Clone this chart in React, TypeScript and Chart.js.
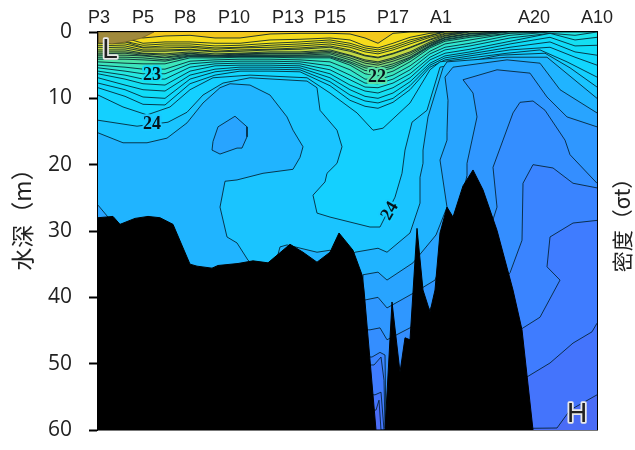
import React, { useEffect, useRef } from "react";
import { Chart, registerables } from "chart.js";

Chart.register(...registerables);

// Section distance (arbitrary units along the transect) and depth (m)
const stationNames = ["P3", "P5", "P8", "P10", "P13", "P15", "P17", "A1", "A20", "A10"];
const stationX = [1, 45, 87, 136, 190, 232, 295, 343, 436, 499];
const depthTicks = [0, 10, 20, 30, 40, 50, 60];

const surfaceX = [0, 27, 45, 67, 92, 117, 142, 172, 202, 232, 252, 267, 280, 295, 312, 332, 347, 372, 412, 452, 477, 499];
// Upper isopycnals, light to dense
const b1 = [0.5, 0.3, 0.9, 0.6, 0.5, 0.9, 0.9, 0.3, 0.2, 0.2, 0.3, 0.9, 1.7, 0.2, 0, 0, 0, 0, 0, 0, 0, 0];
const b2 = [0.9, 0.9, 1.7, 1.5, 1.5, 1.7, 1.7, 1.2, 1.1, 0.9, 1.2, 2.1, 2.4, 1.7, 0.8, 0.2, 0, 0, 0, 0, 0, 0];
const b2a = [1.2, 1.4, 2.0, 1.8, 1.8, 2.1, 2.0, 1.7, 1.5, 1.2, 1.7, 2.4, 2.7, 2.1, 1.2, 0.5, 0, 0, 0, 0, 0, 0];
const b3 = [1.4, 1.5, 2.3, 2.1, 2.1, 2.4, 2.3, 2.0, 1.8, 1.5, 2.0, 2.7, 3.0, 2.4, 1.5, 0.6, 0, 0, 0, 0, 0, 0];
const b3a = [1.7, 1.8, 2.4, 2.4, 2.3, 2.6, 2.4, 2.3, 2.1, 1.8, 2.3, 3.0, 3.3, 2.7, 1.8, 0.8, 0.2, 0, 0, 0, 0, 0];
const b4 = [2.0, 2.1, 2.7, 2.7, 2.6, 2.9, 2.7, 2.6, 2.4, 2.1, 2.7, 3.5, 3.8, 3.2, 2.3, 1.1, 0.3, 0, 0, 0, 0, 0];
const b4a = [2.3, 2.4, 2.9, 2.9, 2.7, 3.0, 2.9, 2.7, 2.6, 2.3, 2.9, 3.6, 3.9, 3.3, 2.4, 1.2, 0.5, 0, 0, 0, 0, 0];
const b5 = [2.7, 2.7, 3.2, 3.3, 3.0, 3.3, 3.2, 3.0, 3.0, 2.7, 3.5, 4.2, 4.5, 3.9, 3.0, 1.5, 0.6, 0, 0, 0, 0, 0];
const b5a = [3.0, 3.0, 3.3, 3.5, 3.2, 3.5, 3.3, 3.2, 3.2, 2.9, 3.6, 4.4, 4.7, 4.1, 3.2, 1.7, 0.8, 0.2, 0, 0, 0, 0];
const b5b = [3.3, 3.2, 3.5, 3.8, 3.3, 3.6, 3.4, 3.3, 3.3, 3.1, 3.9, 4.7, 5.0, 4.4, 3.5, 1.8, 0.9, 0.3, 0, 0, 0, 0];
const b6 = [3.5, 3.5, 3.6, 3.9, 3.5, 3.6, 3.5, 3.5, 3.5, 3.3, 4.2, 5.1, 5.4, 4.8, 3.8, 2.0, 0.9, 0.3, 0, 0, 0, 0];
const b6a = [3.8, 3.8, 3.9, 4.2, 3.6, 3.8, 3.6, 3.6, 3.6, 3.6, 4.5, 5.4, 5.7, 5.1, 3.9, 2.1, 1.1, 0.5, 0, 0, 0, 0];
const b6b = [4.1, 4.1, 4.2, 4.4, 3.7, 3.75, 3.7, 3.7, 3.75, 3.75, 4.7, 5.8, 6.0, 5.4, 4.1, 2.2, 1.2, 0.6, 0, 0, 0, 0];
const b7 = [4.5, 4.7, 4.8, 4.8, 3.9, 3.9, 3.8, 3.8, 3.9, 3.9, 5.0, 6.3, 6.6, 5.9, 4.5, 2.4, 1.4, 0.8, 0.2, 0, 0, 0];
const b8 = [5.0, 5.3, 5.6, 5.6, 4.4, 4.2, 4.1, 4.1, 4.2, 4.5, 5.7, 7.1, 7.2, 6.5, 5.1, 2.9, 1.8, 1.2, 0.2, 0, 0, 0];
const b9 = [5.4, 5.9, 6.3, 6.3, 4.8, 4.5, 4.4, 4.4, 4.5, 5.1, 6.5, 7.7, 7.8, 7.1, 5.7, 3.3, 2.3, 1.7, 0.5, 0, 0, 0];
const b10 = [5.9, 6.5, 7.1, 7.1, 5.3, 4.8, 4.7, 4.7, 4.8, 5.7, 7.2, 8.3, 8.4, 7.7, 6.3, 3.8, 2.7, 2.1, 0.9, 0.2, 0.5, 0];
const b11 = [6.3, 7.1, 7.8, 8.0, 5.9, 5.1, 5.0, 5.0, 5.1, 6.3, 8.0, 8.9, 9.2, 8.4, 6.9, 4.2, 3.2, 2.6, 1.4, 0.2, 1.2, 0.8];
const b12 = [6.9, 8.0, 8.7, 8.9, 6.5, 5.6, 5.3, 5.3, 5.4, 6.9, 8.7, 9.7, 10.0, 9.2, 7.5, 4.7, 3.6, 3.0, 1.8, 0.8, 2.1, 2.0];
const b13 = [7.7, 8.7, 9.8, 10.0, 7.1, 6.0, 5.6, 5.6, 5.7, 7.5, 9.5, 10.4, 10.7, 10.0, 8.1, 5.0, 3.9, 3.3, 2.3, 1.5, 3.0, 3.5];
const b14 = [8.4, 9.7, 10.9, 11.0, 7.8, 6.5, 5.9, 5.9, 6.0, 8.1, 10.3, 11.2, 11.5, 10.6, 8.7, 5.3, 4.2, 3.6, 2.7, 2.3, 3.8, 5.0];
const upperLines = [b1, b2, b2a, b3, b3a, b4, b4a, b5, b5a, b5b, b6, b6a, b6b, b7, b8, b9, b10, b11, b12, b13, b14];

// Lower isopycnals as [distance, depth] pairs
const lineC = [[0, 9.5], [25, 11.3], [49, 12.5], [72, 11.3], [92, 8.7], [115, 6.9], [152, 6.5], [209, 6.9], [232, 9.2], [259, 12.2], [275, 14.8], [285, 14.5], [312, 10.7], [332, 5.7], [342, 4.5], [409, 3.2], [442, 2.7], [469, 4.5], [499, 6.8]];
const lineH = [[0, 13.3], [39, 14.2], [70, 13.6], [89, 12.1], [105, 9.5], [125, 7.7], [152, 6.9], [209, 7.4], [219, 8.4], [222, 11.8], [239, 14.8], [244, 17.3], [239, 19.8], [229, 21.3], [227, 22.6], [215, 24.6], [219, 27.3], [232, 27.9], [272, 29.4], [282, 29.4], [297, 24.9], [304, 21.3], [307, 17.8], [314, 13.6], [329, 11.8], [342, 5.3], [402, 3.5], [447, 3.2], [472, 5.4], [499, 8.3]];
const lineG = [[0, 15.2], [25, 16.7], [49, 16.7], [69, 16], [89, 13.7], [105, 10.7], [122, 8.4], [132, 7.8], [152, 8], [172, 9.5], [189, 12.8], [195, 14.8], [205, 17.3], [202, 18.9], [195, 20.7], [165, 21.3], [139, 22.3], [127, 22.5], [122, 26.4], [129, 30.9], [139, 31.8], [150, 34.4], [167, 36.6], [179, 34.1], [182, 32.4], [189, 32.1], [219, 33.2], [232, 32.9], [247, 34.4], [257, 33.2], [280, 32.6], [289, 33.2], [312, 30.3], [322, 25.8], [322, 21.9], [325, 19.8], [325, 17.8], [330, 12.8], [345, 5.4], [349, 4.5], [409, 3.8], [449, 3.8], [499, 10]];
const lineF = [[0, 26.1], [10, 27.9], [10, 32.9], [152, 38.9], [265, 38.9], [265, 36.6], [280, 36.2], [289, 37.4], [315, 34.8], [338, 30.6], [349, 26.4], [342, 19.3], [349, 16.3], [349, 15.2], [350, 10.3], [347, 6.8], [355, 5.3], [409, 4.2], [442, 4.7], [462, 8.7], [499, 12.2]];
const lineE = [[0, 40.4], [267, 40.4], [280, 40], [289, 41.6], [315, 39.4], [325, 38.5], [337, 37.4], [357, 29.9], [369, 21.6], [369, 19.8], [374, 16.3], [379, 12.8], [375, 9.2], [365, 7.2], [399, 5.7], [432, 6.2], [449, 9.8], [469, 12.8], [499, 14.3]];
const lineL = [[0, 45], [272, 44.9], [282, 44.6], [289, 46.4], [312, 44.6], [382, 34.4], [399, 26.4], [395, 20.4], [405, 16.3], [415, 12.2], [422, 10.6], [435, 10.4], [447, 11.8], [467, 16.3], [472, 18.5], [499, 22.8]];
const lineD4 = [[0, 48], [274, 49], [282, 48.3], [287, 48.7], [288, 59.9], [412, 36.3], [424, 31.4], [425, 22.8], [435, 20], [455, 20.5], [475, 22.8], [499, 23.5]];
const lineD3 = [[0, 50], [276, 50.2], [283, 49], [286, 52.5], [287, 59.7], [422, 44.9], [442, 43], [462, 37.4], [449, 35.4], [452, 30.9], [475, 28.8], [499, 28.4]];
const lineD2 = [[0, 54], [277, 54.7], [283, 54.3], [286, 60], [429, 52], [452, 49.9], [475, 46.9], [494, 45.2], [499, 43.9]];
const lineD1 = [[0, 57], [278, 57], [281, 55.5], [283, 60], [459, 59.7], [472, 57], [499, 54.7]];
const islandP10 = [[137, 12.7], [149, 14.3], [149, 15.8], [144, 17.5], [139, 17.5], [122, 18.4], [114, 17.8], [115, 16.5], [120, 14.3], [137, 12.7]];
const brownCorner = [[0, 0], [0, 1.6], [14, 1.8], [28, 1.5], [44, 0.9], [56, 0], [0, 0]];

const seabed = [[0, 28], [15, 27.8], [22, 29], [37, 28.1], [50, 27.8], [62, 28], [75, 29], [92, 35], [99, 35.3], [114, 35.6], [120, 35.2], [140, 34.9], [155, 34.5], [170, 34.8], [192, 32], [205, 33.2], [219, 34.7], [232, 33.2], [241, 30.3], [255, 32.9], [264, 36.6], [266, 38.9], [278, 60], [287, 60], [294, 40.7], [302, 51.3], [307, 46.1], [312, 46.4], [319, 29.6], [325, 38.9], [332, 42.2], [337, 38.9], [342, 30.3], [349, 26.4], [355, 27.9], [365, 23.2], [375, 20.8], [385, 23.8], [399, 29.9], [415, 38.9], [424, 44.9], [435, 60]];

const baseColor = "#f3c81c";
const upperColors = ["#f6dc1c", "#f8e81e", "#f8ee20", "#f2ec24", "#e8e428", "#d8de34", "#c2d844", "#a8d458", "#90d46a", "#7cd67c", "#6cdc8c", "#5ce098", "#4ce4a8", "#3ce6bc", "#30e8d0", "#26e8e0", "#1ce4ea", "#14def2", "#10dcf8", "#10d8fc", "#12d6fe"];
const lowerColors = ["#14d0ff", "#1ac4ff", "#20b4ff", "#28a4ff", "#2f97ff", "#348eff", "#3a84ff", "#3f7cff", "#4474fc", "#4a6cf6"];

const contourLabels = [
  { text: "23", x: 54, depth: 6.6, angle: 0, halo: "#14dcf4" },
  { text: "24", x: 54, depth: 13.9, angle: 0, halo: "#1ac8ff" },
  { text: "22", x: 279, depth: 6.8, angle: 0, halo: "#58e2a8" },
  { text: "24", x: 292, depth: 27, angle: -60, halo: "#16ccff" },
];
const cornerLabels = [
  { text: "L", x: 12, depth: 2.8 },
  { text: "H", x: 479, depth: 57.7 },
];
const sideTitles = [
  { text: "水深（m）", left: 22, middle: 214, size: 23 },
  { text: "密度（σt）", left: 622, middle: 220, size: 21 },
];

const toPts = (rows: number[][]) => rows.map(([x, y]) => ({ x, y }));
const LINE = "rgba(4,32,46,0.85)";

const bandFill = {
  id: "bandFill",
  beforeDatasetsDraw(chart: any) {
    const a = chart.chartArea;
    chart.ctx.save();
    chart.ctx.fillStyle = baseColor;
    chart.ctx.fillRect(a.left, a.top, a.width, a.height);
    chart.ctx.restore();
  },
  beforeDatasetDraw(chart: any, args: any) {
    const ds = chart.data.datasets[args.index];
    if (!ds.bandColor) return;
    const { ctx, chartArea: a } = chart;
    const pts = args.meta.data;
    ctx.save();
    ctx.beginPath();
    ctx.rect(a.left, a.top, a.width, a.height);
    ctx.clip();
    ctx.beginPath();
    pts.forEach((p: any, i: number) => (i ? ctx.lineTo(p.x, p.y) : ctx.moveTo(p.x, p.y)));
    if (!ds.closedShape) {
      ctx.lineTo(a.right, a.bottom);
      ctx.lineTo(a.left, a.bottom);
    }
    ctx.closePath();
    ctx.fillStyle = ds.bandColor;
    ctx.fill();
    ctx.restore();
  },
  afterDatasetsDraw(chart: any) {
    const { ctx, chartArea: a } = chart;
    ctx.save();
    ctx.strokeStyle = "#777";
    ctx.lineWidth = 1;
    ctx.beginPath();
    ctx.moveTo(a.left, a.bottom + 0.5);
    ctx.lineTo(a.right + 1, a.bottom + 0.5);
    ctx.stroke();
    ctx.restore();
  },
};

const textMarks = {
  id: "textMarks",
  afterDatasetsDraw(chart: any) {
    const { ctx, scales } = chart;
    ctx.save();
    ctx.textAlign = "center";
    ctx.textBaseline = "middle";
    ctx.lineJoin = "round";
    contourLabels.forEach((l) => {
      ctx.save();
      ctx.translate(scales.x.getPixelForValue(l.x), scales.y.getPixelForValue(l.depth));
      ctx.rotate((l.angle * Math.PI) / 180);
      ctx.font = 'bold 18px "Liberation Serif"';
      ctx.strokeStyle = l.halo;
      ctx.lineWidth = 4;
      ctx.strokeText(l.text, 0, 0);
      ctx.fillStyle = "#06141c";
      ctx.fillText(l.text, 0, 0);
      ctx.restore();
    });
    ctx.font = '28px "Liberation Sans"';
    cornerLabels.forEach((l) => {
      const px = scales.x.getPixelForValue(l.x);
      const py = scales.y.getPixelForValue(l.depth);
      ctx.strokeStyle = "#e8e8e8";
      ctx.lineWidth = 3.5;
      ctx.strokeText(l.text, px, py);
      ctx.fillStyle = "#222";
      ctx.fillText(l.text, px, py);
    });
    sideTitles.forEach((t) => {
      ctx.save();
      ctx.translate(t.left, t.middle);
      ctx.rotate(-Math.PI / 2);
      ctx.font = `${t.size}px "Noto Sans CJK SC"`;
      ctx.fillStyle = "#222";
      ctx.fillText(t.text, 0, 0);
      ctx.restore();
    });
    ctx.restore();
  },
};

export default function App() {
  const ref = useRef<HTMLCanvasElement>(null);
  useEffect(() => {
    document.body.style.margin = "0";
    const upper = upperLines.map((row, i) => ({
      data: row.map((y, j) => ({ x: surfaceX[j], y })),
      bandColor: upperColors[i],
      borderColor: LINE,
      borderWidth: 1,
    }));
    const lower = [lineC, lineH, lineG, lineF].map((r, i) => ({ data: toPts(r), bandColor: lowerColors[i], borderColor: LINE, borderWidth: 1 }));
    const island = { data: toPts(islandP10), bandColor: lowerColors[3], closedShape: true, borderColor: LINE, borderWidth: 1 };
    const lower2 = [lineE, lineL, lineD4, lineD3, lineD2, lineD1].map((r, i) => ({ data: toPts(r), bandColor: lowerColors[i + 4], borderColor: LINE, borderWidth: 1 }));
    const corner = { data: toPts(brownCorner), bandColor: "#a08a3c", closedShape: true, borderColor: "rgba(90,70,30,0.6)", borderWidth: 1 };
    const all: any[] = [
      ...upper,
      corner,
      ...lower,
      island,
      ...lower2,
      { data: toPts(seabed), bandColor: "#000", borderColor: "#000", borderWidth: 1 },
    ];
    const n = all.length;
    const datasets = all.map((d, i) => ({
      ...d,
      showLine: true,
      pointRadius: 0,
      tension: 0,
      fill: false,
      order: n - i,
    }));
    const chart = new Chart(ref.current!, {
      type: "scatter",
      data: { datasets },
      plugins: [bandFill, textMarks],
      options: {
        responsive: false,
        animation: false,
        events: [],
        layout: { padding: { bottom: 20 }, autoPadding: false },
        plugins: { legend: { display: false }, tooltip: { enabled: false } },
        scales: {
          x: {
            type: "linear",
            position: "top",
            min: 0,
            max: 499,
            afterBuildTicks: (s: any) => {
              s.ticks = stationX.map((value) => ({ value }));
            },
            afterFit: (s: any) => {
              s.height = 32;
              s.paddingLeft = 0;
              s.paddingRight = 0;
            },
            ticks: {
              autoSkip: false,
              maxRotation: 0,
              padding: 3,
              color: "#222",
              font: { family: "Liberation Sans", size: 18 },
              callback: (v: any) => stationNames[stationX.indexOf(Number(v))],
            },
            grid: { display: false, drawTicks: false },
            border: { display: true, color: "#000", width: 2 },
          },
          y: {
            type: "linear",
            position: "left",
            reverse: true,
            min: 0,
            max: 60,
            afterBuildTicks: (s: any) => {
              s.ticks = depthTicks.map((value) => ({ value }));
            },
            afterFit: (s: any) => {
              s.width = 98;
              s.paddingTop = 0;
              s.paddingBottom = 0;
            },
            ticks: { padding: 17, color: "#222", font: { family: "Open Sans", size: 21 } },
            grid: { drawOnChartArea: false, tickLength: 9, tickWidth: 2, tickColor: "#000" },
            border: { display: true, color: "#000", width: 2 },
          },
          yr: {
            type: "linear",
            position: "right",
            min: 0,
            max: 60,
            afterFit: (s: any) => {
              s.width = 38;
            },
            ticks: { display: false },
            grid: { display: false },
            border: { display: true, color: "#000", width: 2 },
          },
        },
      },
    } as any);
    return () => chart.destroy();
  }, []);
  return (
    <div style={{ position: "absolute", left: 0, top: 0, width: 635, height: 450 }}>
      <canvas ref={ref} width={635} height={450} style={{ display: "block", width: 635, height: 450 }} />
    </div>
  );
}
